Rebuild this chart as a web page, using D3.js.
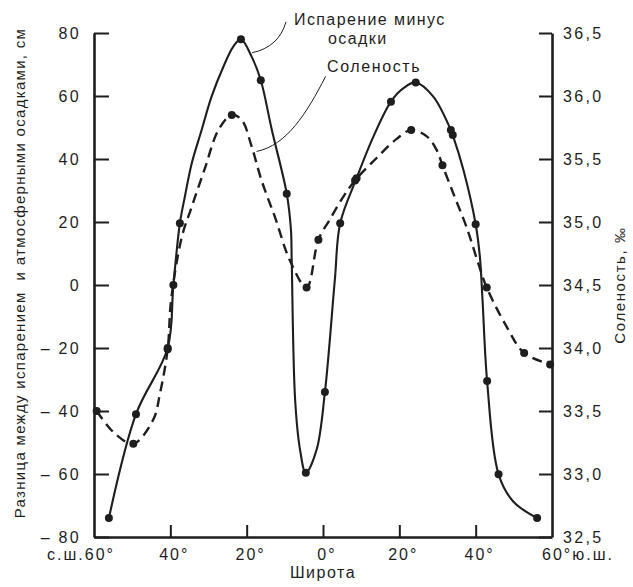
<!DOCTYPE html>
<html>
<head>
<meta charset="utf-8">
<script src="https://cdn.jsdelivr.net/npm/d3@7"></script>
<style>
  body { margin: 0; background: #fff; }
  text { font-family: "Liberation Sans", Arial, sans-serif; fill: #1e1e1e; }
</style>
</head>
<body>
<div id="chart"></div>
<script>
// Chart size
const width = 633;
const height = 587;
const margin = {top: 33, right: 81, bottom: 50, left: 94};

// Latitude: negative = north (с.ш.), positive = south (ю.ш.)
// Evaporation minus precipitation, cm (solid curve)
const epTraceLat = [-56.1, -49.0, -40.7, -39.2, -37.5, -36.2, -34.4, -31.8, -29.2, -26.1, -23.5, -21.5, -18.7, -16.3, -13.4, -9.5, -8.4, -8.2, -7.3, -6.0, -4.5, -1.7, 0.5, 3.1, 4.5, 8.8, 13.2, 17.8, 21.0, 24.3, 28.9, 33.5, 34.0, 36.8, 40.0, 41.1, 41.8, 43.0, 46.0, 49.9, 56.1];
const epTraceVal = [-74, -41, -20, 0, 19.6, 28.0, 38.6, 49.2, 59.8, 69.3, 75.7, 78, 72.5, 65, 49.2, 29, 17.5, 7.9, -36.5, -52.4, -59.6, -52.4, -34, 1.6, 19.6, 33.9, 47.1, 58.2, 62.4, 64.3, 59.8, 49.2, 47.6, 36.5, 19.3, 9.0, -4.8, -30.5, -60.1, -68.8, -74];
// measured points (dots)
const epDotLat = [-56.1, -49.0, -40.7, -39.2, -37.5, -21.5, -16.3, -9.5, -4.5, 0.5, 4.5, 8.8, 17.8, 24.3, 33.5, 34.0, 40.0, 43.0, 46.0, 56.1];
const epDotVal = [-74, -41, -20, 0, 19.6, 78, 65, 29, -59.6, -34, 19.6, 33.9, 58.2, 64.3, 49.2, 47.6, 19.3, -30.5, -60.1, -74];

// Salinity, ‰ (dashed curve)
const salTraceLat = [-59.3, -54.5, -49.7, -44.5, -42.7, -40.7, -39.8, -37.0, -34.4, -30.9, -27.4, -23.9, -21.3, -18.7, -16.1, -12.6, -8.6, -4.3, -1.2, 1.8, 5.3, 8.4, 14.1, 19.3, 23.1, 27.2, 29.8, 31.3, 34.1, 37.6, 40.7, 42.9, 48.1, 52.7, 59.5];
const salTraceVal = [33.50, 33.32, 33.24, 33.43, 33.64, 33.99, 34.38, 34.88, 35.12, 35.43, 35.73, 35.85, 35.81, 35.60, 35.33, 35.04, 34.69, 34.48, 34.86, 35.02, 35.20, 35.33, 35.51, 35.66, 35.73, 35.68, 35.57, 35.45, 35.23, 34.96, 34.67, 34.48, 34.17, 33.96, 33.87];
const salDotLat = [-59.3, -49.7, -40.7, -23.9, -4.3, -1.2, 8.4, 23.1, 31.3, 42.9, 52.7, 59.5];
const salDotVal = [33.50, 33.24, 33.99, 35.85, 34.48, 34.86, 35.33, 35.73, 35.45, 34.48, 33.96, 33.87];

// Tick labels
const epTicks = [80, 60, 40, 20, 0, -20, -40, -60, -80];
const salTicks = [36.5, 36.0, 35.5, 35.0, 34.5, 34.0, 33.5, 33.0, 32.5];
const latTicks = [-60, -40, -20, 0, 20, 40, 60];
const latTickText = ["с.ш.60°", "40°", "20°", "0°", "20°", "40°", "60°ю.ш."];

const ink = "#1e1e1e";

const svg = d3.select("#chart")
  .append("svg")
  .attr("width", width)
  .attr("height", height);

const x = d3.scaleLinear().domain([-60, 60]).range([margin.left, width - margin.right]);
const y = d3.scaleLinear().domain([-80, 80]).range([height - margin.bottom, margin.top]);
const ys = d3.scaleLinear().domain([32.5, 36.5]).range([height - margin.bottom, margin.top]);

// Axes
const leftAxis = svg.append("g")
  .attr("transform", "translate(" + margin.left + ",0)")
  .call(d3.axisLeft(y).tickValues(epTicks).tickSize(-15).tickSizeOuter(0).tickPadding(13)
    .tickFormat(d => d < 0 ? "– " + Math.abs(d) : d));

const rightAxis = svg.append("g")
  .attr("transform", "translate(" + (width - margin.right) + ",0)")
  .call(d3.axisRight(ys).tickValues(salTicks).tickSize(-13).tickSizeOuter(0).tickPadding(11)
    .tickFormat(d => d3.format(".1f")(d).replace(".", ",")));

const bottomAxis = svg.append("g")
  .attr("transform", "translate(0," + (height - margin.bottom) + ")")
  .call(d3.axisBottom(x).tickValues([-40, -20, 0, 20, 40]).tickSize(-12).tickSizeOuter(0).tickFormat(""));

[leftAxis, rightAxis, bottomAxis].forEach(g => {
  g.select(".domain").attr("stroke", ink).attr("stroke-width", 2.6);
  g.selectAll(".tick line").attr("stroke", ink).attr("stroke-width", 2);
  g.selectAll(".tick text")
    .style("font-size", "16px")
    .style("letter-spacing", "2.3px")
    .attr("fill", ink);
});

// latitude labels
svg.selectAll(".lat-label")
  .data(latTicks)
  .enter()
  .append("text")
  .attr("class", "lat-label")
  .attr("x", (d, i) => i === 0 ? x(d) + 21 : (i === latTicks.length - 1 ? x(d) - 10 : x(d) + 4))
  .attr("y", height - margin.bottom + 23)
  .attr("text-anchor", (d, i) => i === 0 ? "end" : (i === latTicks.length - 1 ? "start" : "middle"))
  .style("font-size", "16px")
  .style("letter-spacing", "2px")
  .text((d, i) => latTickText[i]);

svg.append("text")
  .attr("x", x(0))
  .attr("y", height - 9)
  .attr("text-anchor", "middle")
  .style("font-size", "16px")
  .style("letter-spacing", "1.5px")
  .text("Широта");

// axis titles
svg.append("text")
  .attr("transform", "translate(25," + (margin.top + 240) + ") rotate(-90)")
  .attr("text-anchor", "middle")
  .style("font-size", "15px")
  .style("letter-spacing", "1.3px")
  .style("white-space", "pre")
  .text("Разница между испарением  и атмосферными осадками, см");

svg.append("text")
  .attr("transform", "translate(625," + 285 + ") rotate(-90)")
  .attr("text-anchor", "middle")
  .style("font-size", "15px")
  .style("letter-spacing", "1.6px")
  .text("Соленость, ‰");

// Curves (centripetal Catmull-Rom through the traced points)
const line = d3.line().curve(d3.curveCatmullRom.alpha(0.5));

svg.append("path")
  .attr("d", line(salTraceLat.map((d, i) => [x(d), ys(salTraceVal[i])])))
  .attr("fill", "none")
  .attr("stroke", ink)
  .attr("stroke-width", 2.4)
  .attr("stroke-dasharray", "10,6");

svg.append("path")
  .attr("d", line(epTraceLat.map((d, i) => [x(d), y(epTraceVal[i])])))
  .attr("fill", "none")
  .attr("stroke", ink)
  .attr("stroke-width", 2.1);

// Dots
svg.selectAll(".sal-dot")
  .data(salDotLat)
  .enter()
  .append("circle")
  .attr("class", "sal-dot")
  .attr("cx", d => x(d))
  .attr("cy", (d, i) => ys(salDotVal[i]))
  .attr("r", 4)
  .attr("fill", ink);

svg.selectAll(".ep-dot")
  .data(epDotLat)
  .enter()
  .append("circle")
  .attr("class", "ep-dot")
  .attr("cx", d => x(d))
  .attr("cy", (d, i) => y(epDotVal[i]))
  .attr("r", 4)
  .attr("fill", ink);

// Annotations with leader lines
const a1 = [x(-18.6), y(73.7)];
svg.append("path")
  .attr("d", "M" + a1[0] + "," + a1[1] + " Q" + (a1[0] + 27) + "," + (a1[1] - 6) + " " + (a1[0] + 34) + "," + (a1[1] - 31))
  .attr("fill", "none")
  .attr("stroke", ink)
  .attr("stroke-width", 1);

const a2 = [x(-17.4), ys(35.56)];
svg.append("path")
  .attr("d", "M" + a2[0] + "," + a2[1] + " C" + (a2[0] + 30) + "," + (a2[1] - 6) + " " + (a2[0] + 50) + "," + (a2[1] - 38) + " " + (a2[0] + 69) + "," + (a2[1] - 75))
  .attr("fill", "none")
  .attr("stroke", ink)
  .attr("stroke-width", 1);

svg.append("text")
  .attr("x", 294).attr("y", 25)
  .style("font-size", "16px")
  .style("letter-spacing", "1.4px")
  .text("Испарение минус");

svg.append("text")
  .attr("x", 328).attr("y", 44)
  .style("font-size", "16px")
  .style("letter-spacing", "1.4px")
  .text("осадки");

svg.append("text")
  .attr("x", 327).attr("y", 72)
  .style("font-size", "16px")
  .style("letter-spacing", "1.6px")
  .text("Соленость");
</script>
</body>
</html>
